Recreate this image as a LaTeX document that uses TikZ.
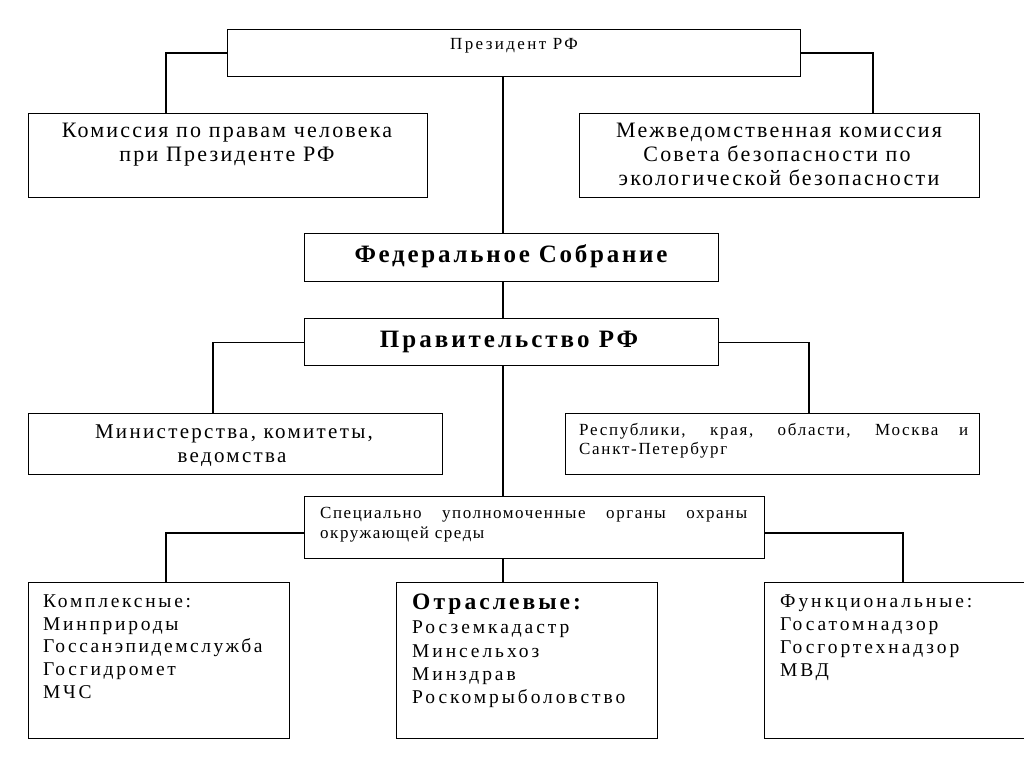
\documentclass[tikz,border=0pt]{standalone}
\usepackage{fontspec}
\setmainfont{Liberation Serif}
\newcommand\fsz[3]{\fontsize{#1}{#2}\selectfont\addfontfeature{LetterSpace=#3}}
\begin{document}
\begin{tikzpicture}[x=1pt,y=-1pt,
  box/.style={draw, line width=1.4pt, inner sep=0pt, anchor=north west},
  conn/.style={line width=1.4pt},
  txt/.style={inner sep=0pt, anchor=base},
  txtl/.style={inner sep=0pt, anchor=base west}]
\useasboundingbox (0,0) rectangle (1024,767);
\clip (0,0) rectangle (1024,767);
\fill[white] (0,0) rectangle (1024,767);
% boxes
\node[box, minimum width=573pt, minimum height=47pt] (pres) at (227,29) {};
\node[box, minimum width=399pt, minimum height=84pt] (kom) at (28,113) {};
\node[box, minimum width=400pt, minimum height=84pt] (mvk) at (579,113) {};
\node[box, minimum width=414pt, minimum height=48pt] (fs) at (304,233) {};
\node[box, minimum width=414pt, minimum height=47pt] (gov) at (304,318) {};
\node[box, minimum width=414pt, minimum height=61pt] (min) at (28,413) {};
\node[box, minimum width=414pt, minimum height=61pt] (rep) at (565,413) {};
\node[box, minimum width=460pt, minimum height=62pt] (spec) at (304,496) {};
\node[box, minimum width=261pt, minimum height=156pt] (kompl) at (28,582) {};
\node[box, minimum width=261pt, minimum height=156pt] (otr) at (396,582) {};
\node[box, minimum width=280pt, minimum height=156pt] (func) at (764,582) {};
% helper coordinates
\coordinate (axis) at (503,0);
\coordinate (colA) at (166,0);
\coordinate (colB) at (873,0);
\coordinate (colC) at (213,0);
\coordinate (colD) at (809,0);
\coordinate (colF) at (903,0);
\coordinate (rowE) at (0,533);
% connectors
\draw[conn] (pres.west) -| (kom.north -| colA);
\draw[conn] (pres.east) -| (mvk.north -| colB);
\draw[conn] (pres.south -| axis) -- (fs.north -| axis);
\draw[conn] (fs.south -| axis) -- (gov.north -| axis);
\draw[conn] (gov.west) -| (min.north -| colC);
\draw[conn] (gov.east) -| (rep.north -| colD);
\draw[conn] (gov.south -| axis) -- (spec.north -| axis);
\draw[conn] (spec.west |- rowE) -| (kompl.north -| colA);
\draw[conn] (spec.east |- rowE) -| (func.north -| colF);
\draw[conn] (spec.south -| axis) -- (otr.north -| axis);
% texts
\node[txt, font=\fsz{17}{19}{14}] (tpres) at (514,50) {Президент РФ};
\node[txt, font=\fsz{22}{25}{10}] (tkom1) at (227,138) {Комиссия по правам человека};
\node[txt, font=\fsz{22}{25}{10}] (tkom2) at (227,162) {при Президенте РФ};
\node[txt, font=\fsz{22}{25}{10}] (tmvk1) at (779,138) {Межведомственная комиссия};
\node[txt, font=\fsz{22}{25}{10}] (tmvk2) at (777,162) {Совета безопасности по};
\node[txt, font=\fsz{22}{25}{10}] (tmvk3) at (779,186) {экологической безопасности};
\node[txt, font=\bfseries\fsz{25}{26}{11}] (tfs) at (511,262) {Федеральное Собрание};
\node[txt, font=\bfseries\fsz{25}{26}{12}] (tgov) at (509,347) {Правительство РФ};
\node[txt, font=\fsz{21}{25}{11}] (tmin1) at (234,438) {Министерства, комитеты,};
\node[txt, font=\fsz{21}{25}{11}] (tmin2) at (232,462) {ведомства};
\node[txtl, font=\fsz{17}{19}{10}] (trep) at (579,435)
  {\parbox[t]{389pt}{Республики, края, области, Москва и\linebreak Санкт-Петербург}};
\node[txtl, font=\fsz{17}{20}{9}] (tspec) at (320,518)
  {\parbox[t]{427pt}{Специально уполномоченные органы охраны\linebreak окружающей среды}};
\node[txtl, font=\fsz{19.5}{23}{14}] (tk1) at (43,607) {Комплексные:};
\node[txtl, font=\fsz{19.5}{23}{14}] (tk2) at (43,630) {Минприроды};
\node[txtl, font=\fsz{19.5}{23}{13}] (tk3) at (43,652) {Госсанэпидемслужба};
\node[txtl, font=\fsz{19.5}{23}{14}] (tk4) at (43,675) {Госгидромет};
\node[txtl, font=\fsz{19.5}{23}{14}] (tk5) at (43,698) {МЧС};
\node[txtl, font=\bfseries\fsz{23.5}{23}{13}] (to1) at (412,609) {Отраслевые:};
\node[txtl, font=\fsz{19.5}{23}{15}] (to2) at (412,633) {Росземкадастр};
\node[txtl, font=\fsz{19.5}{23}{15}] (to3) at (412,657) {Минсельхоз};
\node[txtl, font=\fsz{19.5}{23}{15}] (to4) at (412,680) {Минздрав};
\node[txtl, font=\fsz{19.5}{23}{15}] (to5) at (412,703) {Роскомрыболовство};
\node[txtl, font=\fsz{19.5}{23}{15}] (tf1) at (780,607) {Функциональные:};
\node[txtl, font=\fsz{19.5}{23}{15}] (tf2) at (780,630) {Госатомнадзор};
\node[txtl, font=\fsz{19.5}{23}{15}] (tf3) at (780,653) {Госгортехнадзор};
\node[txtl, font=\fsz{19.5}{23}{15}] (tf4) at (780,676) {МВД};
\end{tikzpicture}
\end{document}
